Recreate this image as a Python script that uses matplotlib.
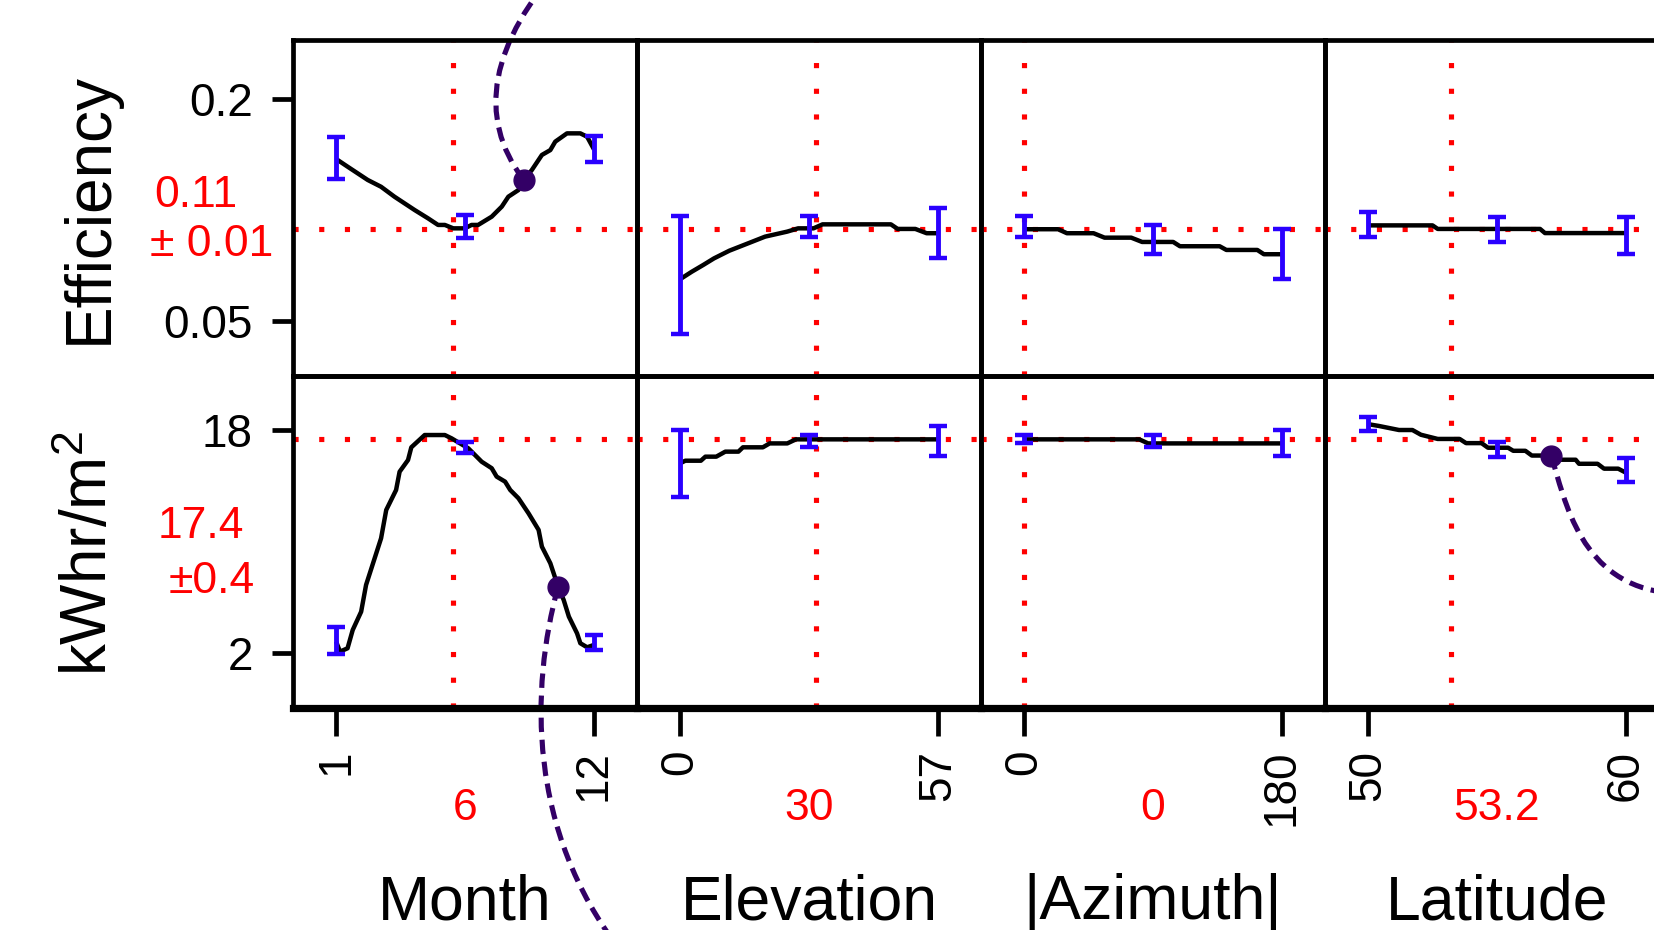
import matplotlib
matplotlib.use('Agg')
import matplotlib.pyplot as plt
from matplotlib.path import Path
from matplotlib.patches import PathPatch

plt.rcParams['font.family'] = ['Liberation Sans', 'DejaVu Sans']
plt.rcParams['mathtext.default'] = 'regular'

# ---------------- data ----------------
factors = ['Month', 'Elevation', '|Azimuth|', 'Latitude']
factor_ticks = [[1, 12], [0, 57], [0, 180], [50, 60]]
current_x = [6, 30, 0, 53.2]
current_x_labels = ['6', '30', '0', '53.2']

responses = ['Efficiency', 'kWhr/m$^2$']
current_eff = 0.112
current_kwh = 17.35
eff_label = ['0.11', '± 0.01']
kwh_label = ['17.4', '±0.4']
eff_ticks = [0.05, 0.2]
eff_ticklabels = ['0.05', '0.2']
kwh_ticks = [2, 18]
kwh_ticklabels = ['2', '18']
eff_ylim = (0.0128, 0.2399)
kwh_ylim = (-1.92, 21.87)

# profile traces
month_eff_x = [1, 1.49, 2.35, 2.92, 3.49, 4.35, 4.92, 5.35, 5.64, 6.0, 6.49, 6.78, 7.06,
               7.64, 8.07, 8.35, 8.78, 9.0, 9.35, 9.78, 10.14, 10.35, 10.85, 11.42, 11.71, 12]
month_eff_y = [0.1595, 0.1543, 0.1453, 0.1407, 0.134, 0.125, 0.1194, 0.1149, 0.1149, 0.1126,
               0.1126, 0.1149, 0.1149, 0.1205, 0.1273, 0.134, 0.1385, 0.1453, 0.152, 0.1622,
               0.1655, 0.1712, 0.1768, 0.1768, 0.1745, 0.166]
month_kwh_x = [1, 1.17, 1.49, 1.71, 2.07, 2.28, 2.92, 3.14, 3.56, 3.71, 4.07, 4.21, 4.78, 5.64,
               5.93, 6.64, 7.21, 7.64, 7.85, 8.21, 8.43, 8.78, 9.21, 9.64, 9.78, 10.14, 10.47,
               10.71, 10.93, 11.28, 11.42, 11.71, 12]
month_kwh_y = [2.84, 2.12, 2.36, 3.67, 4.98, 6.9, 10.24, 12.27, 13.7, 15.01, 15.85, 16.76, 17.64,
               17.64, 17.4, 16.69, 15.73, 15.26, 14.66, 14.3, 13.7, 13.11, 12.03, 10.84, 9.64,
               8.45, 6.78, 5.82, 4.63, 3.43, 2.72, 2.43, 2.6]
elev_eff_x = [0, 2.6, 5.1, 7.5, 10.9, 15.4, 18.8, 23.7, 26.1, 29.5, 31.5, 46.6, 48.1, 52.0, 54.5, 57]
elev_eff_y = [0.0782, 0.0833, 0.0878, 0.0923, 0.0975, 0.1029, 0.107, 0.1104, 0.1126, 0.1126,
              0.1153, 0.1153, 0.1122, 0.1122, 0.1093, 0.1093]
elev_kwh_x = [0, 1.16, 4.6, 5.6, 8.0, 10.0, 12.9, 13.9, 18.3, 19.8, 23.7, 25.6, 57]
elev_kwh_y = [15.61, 15.8, 15.8, 16.09, 16.09, 16.45, 16.45, 16.76, 16.76, 17.04, 17.04, 17.33, 17.33]
az_eff_x = [0, 23.8, 29.9, 48.5, 56.2, 74.8, 82.4, 104.1, 108.8, 136.5, 141.2, 162.8, 167.4, 180]
az_eff_y = [0.112, 0.112, 0.1093, 0.1093, 0.1063, 0.1063, 0.1034, 0.1034, 0.1005, 0.1005,
            0.098, 0.098, 0.0951, 0.0951]
az_kwh_x = [0, 80.4, 86.6, 180]
az_kwh_y = [17.33, 17.33, 17.04, 17.04]
lat_eff_x = [50, 52.5, 52.7, 56.67, 56.86, 60]
lat_eff_y = [0.1146, 0.1146, 0.1122, 0.1122, 0.1094, 0.1094]
lat_kwh_x = [50, 50.42, 51.2, 51.72, 52.05, 52.7, 53.55, 53.8, 54.4, 54.65, 55.43, 55.63, 56.1,
             56.35, 57.1, 57.4, 58.05, 58.18, 58.9, 59.15, 59.7, 60]
lat_kwh_y = [18.42, 18.29, 18.0, 18.0, 17.66, 17.36, 17.36, 17.06, 17.06, 16.73, 16.73, 16.51,
             16.51, 16.17, 16.17, 15.87, 15.87, 15.58, 15.58, 15.23, 15.23, 14.94]

# confidence bars at min / middle / max of each factor
month_bar_x = [1, 6.5, 12]
month_eff_lo = [0.1458, 0.1058, 0.1572]
month_eff_hi = [0.1746, 0.1216, 0.1752]
month_kwh_lo = [1.95, 16.37, 2.24]
month_kwh_hi = [3.87, 17.12, 3.32]
elev_bar_x = [0, 28.5, 57]
elev_eff_lo = [0.041, 0.1066, 0.0924]
elev_eff_hi = [0.121, 0.121, 0.1261]
elev_kwh_lo = [13.18, 16.76, 16.14]
elev_kwh_hi = [18.0, 17.64, 18.29]
az_bar_x = [0, 90, 180]
az_eff_lo = [0.1066, 0.0953, 0.0782]
az_eff_hi = [0.121, 0.1149, 0.112]
az_kwh_lo = [17.04, 16.76, 16.14]
az_kwh_hi = [17.64, 17.64, 18.0]
lat_bar_x = [50, 55, 60]
lat_eff_lo = [0.1066, 0.1034, 0.0953]
lat_eff_hi = [0.1238, 0.1206, 0.1206]
lat_kwh_lo = [17.91, 16.09, 14.26]
lat_kwh_hi = [18.93, 17.15, 15.96]

# highlighted points (column, row, x, y)
highlight = [(0, 0, 9.0, 0.1453), (0, 1, 10.47, 6.78), (3, 1, 57.1, 16.17)]

traces = [
    [(month_eff_x, month_eff_y), (month_kwh_x, month_kwh_y)],
    [(elev_eff_x, elev_eff_y), (elev_kwh_x, elev_kwh_y)],
    [(az_eff_x, az_eff_y), (az_kwh_x, az_kwh_y)],
    [(lat_eff_x, lat_eff_y), (lat_kwh_x, lat_kwh_y)],
]
bars = [
    (month_bar_x, [(month_eff_lo, month_eff_hi), (month_kwh_lo, month_kwh_hi)]),
    (elev_bar_x, [(elev_eff_lo, elev_eff_hi), (elev_kwh_lo, elev_kwh_hi)]),
    (az_bar_x, [(az_eff_lo, az_eff_hi), (az_kwh_lo, az_kwh_hi)]),
    (lat_bar_x, [(lat_eff_lo, lat_eff_hi), (lat_kwh_lo, lat_kwh_hi)]),
]

# ---------------- layout / style ----------------
W, H = 1654, 930
fig = plt.figure(figsize=(W / 100, H / 100), dpi=100)
fig.patch.set_facecolor('white')

col_edges = [293, 637, 981, 1325, 1669]
row_edges = [40, 376, 708]
MARGIN = 0.167
RED = '#FF0000'
BLUE = '#2A00FF'
PURPLE = '#330066'
dot_ls = (0, (1, 4.0))


def rect(x0, y0, x1, y1):
    return [x0 / W, 1 - y1 / H, (x1 - x0) / W, (y1 - y0) / H]


def ftext(x, y, s, **kw):
    fig.text(x / W, 1 - y / H, s, **kw)


axes = {}
for c in range(4):
    lo, hi = factor_ticks[c]
    rng = hi - lo
    for r in range(2):
        ax = fig.add_axes(rect(col_edges[c], row_edges[r], col_edges[c + 1], row_edges[r + 1]))
        ax.patch.set_visible(False)
        ax.set_xlim(lo - MARGIN * rng, hi + MARGIN * rng)
        ax.set_ylim(eff_ylim if r == 0 else kwh_ylim)
        for name, sp in ax.spines.items():
            sp.set_linewidth(3.4)
            sp.set_color('black')
        if r == 1:
            ax.spines['bottom'].set_linewidth(5.2)
        # ticks
        if r == 1:
            ax.set_xticks(factor_ticks[c])
            ax.set_xticklabels([str(t) for t in factor_ticks[c]], rotation=90)
            ax.tick_params(axis='x', length=20, width=3.4, pad=10, labelsize=33)
        else:
            ax.set_xticks([])
        if c == 0:
            if r == 0:
                ax.set_yticks(eff_ticks)
                ax.set_yticklabels(eff_ticklabels)
            else:
                ax.set_yticks(kwh_ticks)
                ax.set_yticklabels(kwh_ticklabels)
            ax.tick_params(axis='y', length=15, width=3.4, pad=14, labelsize=33)
        else:
            ax.set_yticks([])

        # current-value reference lines
        ax.axhline(current_eff if r == 0 else current_kwh, color=RED, lw=3.7,
                   ls=dot_ls, dash_capstyle='butt', zorder=1)
        ax.axvline(current_x[c], color=RED, lw=3.7, ls=dot_ls,
                   dash_capstyle='butt', zorder=1)

        # profile trace
        tx, ty = traces[c][r]
        ax.plot(tx, ty, color='black', lw=3.2, solid_joinstyle='round',
                solid_capstyle='butt', zorder=3)

        # confidence bars
        bx = bars[c][0]
        blo, bhi = bars[c][1][r]
        mid = [(a + b) / 2 for a, b in zip(blo, bhi)]
        err = [[m - a for m, a in zip(mid, blo)], [b - m for m, b in zip(mid, bhi)]]
        ax.errorbar(bx, mid, yerr=err, fmt='none', ecolor=BLUE, elinewidth=3.5,
                    capsize=6.3, capthick=3.2, zorder=4)
        axes[(c, r)] = ax

# highlighted points
for c, r, x, y in highlight:
    axes[(c, r)].plot([x], [y], 'o', ms=15, color=PURPLE, zorder=6, clip_on=False)

# dashed callout connectors (leave the visible area)
fig.canvas.draw()


def img_pt(c, r, x, y):
    X, Y = axes[(c, r)].transData.transform((x, y))
    return X, H - Y


connectors = [
    (highlight[0], [(452, 85), (565, -40)], Path.CURVE3),
    (highlight[1], [(530, 690), (528, 830), (620, 950)], Path.CURVE4),
    (highlight[2], [(1565, 500), (1580, 585), (1670, 593)], Path.CURVE4),
]
for (c, r, x, y), ctrl, code in connectors:
    x0, y0 = img_pt(c, r, x, y)
    pts = [(x0, y0)] + ctrl
    verts = [(px / W, 1 - py / H) for px, py in pts]
    codes = [Path.MOVETO] + [code] * len(ctrl)
    patch = PathPatch(Path(verts, codes), transform=fig.transFigure, fill=False,
                      edgecolor=PURPLE, lw=3.7, ls=(0, (2.8, 1.5)), zorder=-1,
                      clip_on=False)
    fig.add_artist(patch)

# response labels
ftext(107, 208, responses[0], rotation=90, rotation_mode='anchor', ha='center',
      va='baseline', fontsize=46)
ftext(107, 553, responses[1], rotation=90, rotation_mode='anchor', ha='center',
      va='baseline', fontsize=46)
ftext(196, 207, eff_label[0], color=RED, fontsize=32, ha='center', va='baseline')
ftext(212, 256, eff_label[1], color=RED, fontsize=32, ha='center', va='baseline')
ftext(201, 538, kwh_label[0], color=RED, fontsize=32, ha='center', va='baseline')
ftext(212, 593, kwh_label[1], color=RED, fontsize=32, ha='center', va='baseline')

# factor labels
for c in range(4):
    xc = (col_edges[c] + col_edges[c + 1]) / 2
    ftext(xc, 820, current_x_labels[c], color=RED, fontsize=32, ha='center', va='baseline')
    ftext(xc, 919, factors[c], fontsize=45, ha='center', va='baseline')

fig.savefig('out.png', dpi=100, facecolor='white')
